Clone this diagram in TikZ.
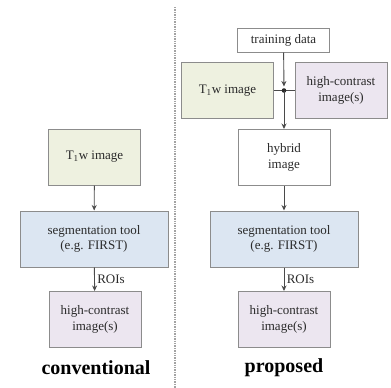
\documentclass[tikz,border=0pt]{standalone}
\usepackage{fontspec}
\setmainfont{Liberation Serif}
\usetikzlibrary{arrows.meta}
\definecolor{boxgray}{HTML}{8C8C8C}
\definecolor{txtgray}{HTML}{2A2A2A}
\definecolor{t1green}{HTML}{EEF1E0}
\definecolor{segblue}{HTML}{DCE6F2}
\definecolor{hclilac}{HTML}{ECE6F0}
\tikzstyle{box} = [rectangle, draw=boxgray, line width=1pt, text=txtgray, align=center, inner sep=0pt, minimum width=92, minimum height=56, font=\fontsize{13}{15.5}\selectfont]
\tikzstyle{t1w} = [box, fill=t1green]
\tikzstyle{seg} = [box, fill=segblue, minimum width=148]
\tikzstyle{hc} = [box, fill=hclilac]
\tikzstyle{plain} = [box, fill=white]
\tikzstyle{caption} = [text=black, font=\fontsize{20}{24}\selectfont\bfseries]
\tikzstyle{roi} = [right, xshift=-1pt, text=txtgray, font=\fontsize{13}{15}\selectfont]
\tikzstyle{arrow} = [line width=0.9pt, draw=txtgray!85, -{Stealth[length=5.5pt, width=5pt]}]

\begin{document}
\begin{tikzpicture}[x=1pt, y=-1pt]
		\useasboundingbox (0,0) rectangle (391,388);
		% conventional pipeline
		\node (t1wL) [t1w] at (94.5,157) {T\textsubscript{1}w image};
		\node (segL) [seg] at (94,239) {segmentation tool\\(e.g. FIRST)};
		\node (hcL) [hc] at (95,319.5) {high-contrast\\image(s)};
		\node (capL) [caption] at (96,368) {conventional};
		\draw [arrow] (t1wL) -- (segL);
		\draw [arrow] (segL) -- node [roi] {ROIs} (hcL);

		% divider
		\draw [boxgray!80, line width=1.3pt, dash pattern=on 1.3pt off 1.1pt] (175,7) -- (175,388);

		% proposed pipeline
		\node (train) [plain, minimum height=24] at (283.5,40) {training data};
		\node (t1wR) [t1w] at (227.5,90.5) {T\textsubscript{1}w image};
		\node (hcR) [hc] at (341,90.5) {high-contrast\\image(s)};
		\node (hybrid) [plain] at (284,157.5) {hybrid\\image};
		\node (segR) [seg] at (284,239) {segmentation tool\\(e.g. FIRST)};
		\node (hcOut) [hc] at (284,319.5) {high-contrast\\image(s)};
		\node (capR) [caption] at (284,368) {proposed};
		\coordinate (join) at (284,90.5);
		\draw [line width=0.9pt, txtgray!85] (t1wR) -- (hcR);
		\draw [arrow, shorten >=4pt] (train) -- (join);
		\fill [txtgray] (join) circle (2.3);
		\draw [arrow] (join) -- (hybrid);
		\draw [arrow] (hybrid) -- (segR);
		\draw [arrow] (segR) -- node [roi] {ROIs} (hcOut);
	\end{tikzpicture}
\end{document}
